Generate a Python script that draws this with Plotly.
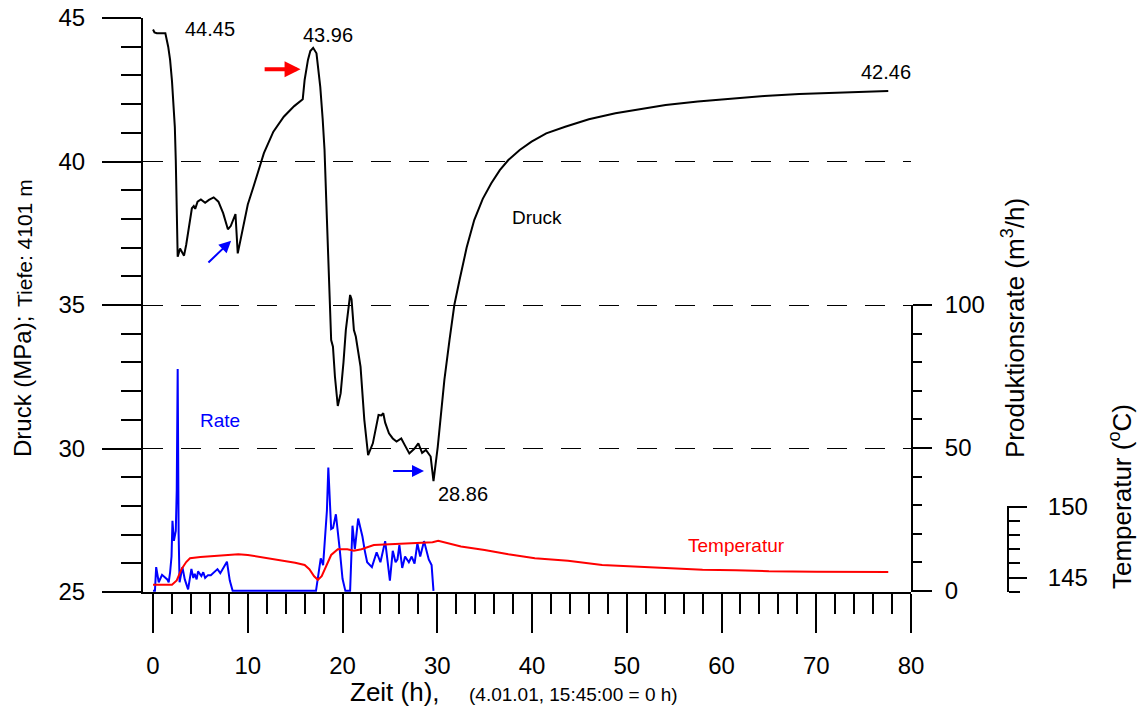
import plotly.graph_objects as go

# ---------------- data ----------------
p_time = [0.0, 0.15, 0.4, 0.8, 1.3, 1.6, 1.8, 2.0, 2.15, 2.3, 2.4, 2.5, 2.6, 2.75, 2.85, 3.05, 3.27,
          3.5, 3.75, 4.1, 4.3, 4.45, 4.7, 5.05, 5.5, 5.9, 6.4, 6.9, 7.4, 7.9, 8.2, 8.5, 8.7, 8.94,
          9.5, 10.0, 10.6, 11.2, 11.7, 12.7, 13.8, 14.9, 15.8, 16.0, 16.35, 16.6, 16.9, 17.25, 17.65,
          17.9, 18.1, 18.35, 18.55, 18.7, 18.8, 18.99, 19.2, 19.5, 19.8, 20.1, 20.35, 20.8, 20.95,
          21.2, 21.4, 21.9, 22.3, 22.7, 23.2, 23.8, 24.1, 24.3, 24.5, 24.9, 25.3, 25.7, 26.2, 26.6,
          27.05, 27.6, 28.0, 28.4, 28.8, 29.3, 29.6, 30.05, 30.4, 30.75, 31.3, 31.8, 32.35, 33.1,
          33.9, 34.8, 35.7, 36.6, 37.5, 38.7, 39.95, 41.5, 43.5, 46.0, 48.8, 51.5, 54.1, 57.5, 61.1,
          64.5, 68.2, 72.5, 77.6]
p_druck = [44.60, 44.50, 44.47, 44.48, 44.47, 44.0, 43.54, 42.8, 42.14, 41.2, 40.05, 38.3, 36.68,
           36.85, 36.97, 36.85, 36.72, 37.1, 37.6, 38.37, 38.45, 38.35, 38.6, 38.68, 38.56, 38.66,
           38.75, 38.6, 38.2, 37.64, 37.75, 38.05, 38.17, 36.8, 37.73, 38.5, 39.12, 39.75, 40.29,
           41.04, 41.56, 41.93, 42.17, 42.84, 43.54, 43.85, 43.96, 43.77, 42.6, 41.5, 40.4, 38.0,
           35.9, 35.0, 33.78, 33.55, 32.5, 31.48, 31.92, 33.0, 34.13, 35.35, 35.2, 34.13, 33.9,
           32.85, 31.0, 29.77, 30.18, 31.17, 31.15, 31.23, 30.9, 30.53, 30.35, 30.24, 30.35, 30.1,
           29.83, 30.0, 30.18, 29.85, 29.95, 29.72, 28.86, 30.06, 31.2, 32.39, 33.8, 35.0, 35.87,
           37.0, 37.96, 38.7, 39.24, 39.7, 40.05, 40.4, 40.69, 40.98, 41.21, 41.47, 41.68, 41.84,
           41.97, 42.09, 42.2, 42.28, 42.35, 42.41, 42.46]

r_time = [0.0, 0.2, 0.33, 0.6, 0.95, 1.3, 1.5, 1.65, 1.8, 1.95, 2.05, 2.2, 2.4, 2.5, 2.6, 2.7, 2.8,
          3.1, 3.35, 3.7, 4.05, 4.25, 4.4, 4.6, 4.75, 5.1, 5.3, 5.5, 5.8, 6.1, 6.4, 6.8, 7.1, 7.4,
          7.8, 8.1, 8.4, 17.2, 17.5, 17.7, 17.95, 18.2, 18.35, 18.5, 18.65, 18.8, 19.0, 19.3, 19.7,
          20.0, 20.3, 20.8, 21.05, 21.3, 21.65, 21.9, 22.1, 22.35, 22.6, 23.1, 23.4, 23.6, 24.0,
          24.3, 24.5, 25.0, 25.3, 25.6, 25.8, 26.0, 26.3, 26.6, 27.0, 27.3, 27.6, 27.9, 28.2, 28.6,
          29.1, 29.4, 29.6]
r_rate = [0, 0, 8.3, 3, 5.6, 4.4, 4.0, 3.0, 6.5, 12, 24.5, 17.5, 21, 35, 77.6, 20, 3, 8.3, 4, 0.5,
          7.7, 4.5, 6, 4.0, 6.8, 5.2, 6.5, 4.5, 5.5, 5.5, 6.5, 7.6, 6.2, 8.0, 10.2, 3.6, 0, 0, 6,
          11.4, 9, 22.8, 28, 43.1, 30, 21.6, 22, 26.8, 14.6, 4.2, 0, 0, 22.8, 14.6, 25.3, 22, 19,
          14, 10, 8.3, 11, 13.5, 10, 14, 17.4, 3.6, 14, 10, 11, 16, 8, 12, 10, 12, 9.5, 16.6, 12,
          17.4, 11, 9, 0]

t_time = [0.0, 2.0, 2.5, 3.0, 3.5, 3.9, 5.0, 6.0, 7.0, 8.0, 9.0, 10.0, 11.0, 12.0, 13.0, 14.0,
          15.0, 16.0, 16.5, 17.0, 17.4, 17.8, 18.3, 18.8, 19.5, 20.5, 21.2, 22.0, 23.3, 25.0, 27.0,
          28.6, 29.5, 30.1, 31.0, 32.5, 35.0, 37.5, 40.3, 43.8, 47.4, 50.9, 54.4, 58.0, 61.5, 65.0,
          70.0, 77.6]
t_temp = [144.5, 144.5, 144.8, 145.6, 146.1, 146.37, 146.45, 146.5, 146.5, 146.6, 146.65, 146.6,
          146.5, 146.4, 146.3, 146.2, 146.05, 145.9, 145.6, 145.1, 144.85, 145.1, 145.8, 146.6,
          147.0, 147.0, 146.9, 147.0, 147.3, 147.35, 147.4, 147.47, 147.5, 147.6, 147.45, 147.2,
          146.95, 146.65, 146.37, 146.2, 145.9, 145.78, 145.67, 145.55, 145.53, 145.45, 145.42,
          145.4]

x_ticks = [0, 10, 20, 30, 40, 50, 60, 70, 80]

# ---------------- layout helpers ----------------
W, H = 1138, 708
L, R, T, B = 143, 130, 18, 116
PW = W - L - R          # paper width in px
PH = H - T - B          # paper height in px
X_END = 911             # right end of x-axis domain (px)


def px(x):
    return (x - L) / PW


def py(y):
    return (H - B - y) / PH


FONT = "Liberation Sans, Arial, sans-serif"

fig = go.Figure()
fig.add_trace(go.Scatter(x=r_time, y=r_rate, mode="lines", yaxis="y2",
                         line=dict(color="#0000ff", width=2), showlegend=False))
fig.add_trace(go.Scatter(x=t_time, y=t_temp, mode="lines", yaxis="y3",
                         line=dict(color="#ff0000", width=2), showlegend=False))
fig.add_trace(go.Scatter(x=p_time, y=p_druck, mode="lines", yaxis="y",
                         line=dict(color="black", width=2), showlegend=False))

fig.update_layout(
    width=W, height=H,
    margin=dict(l=L, r=R, t=T, b=B, pad=0, autoexpand=False),
    paper_bgcolor="white", plot_bgcolor="rgba(0,0,0,0)",
    font=dict(family=FONT, color="black", size=24),
    xaxis=dict(domain=[0, px(X_END)], range=[-1.06, 80.0], tickvals=x_ticks, automargin=False,
               showline=True, linecolor="black", linewidth=2, showgrid=False, zeroline=False,
               layer="below traces",
               ticks="outside", ticklen=39, tickwidth=2, tickcolor="black",
               ticklabelstandoff=12, tickfont=dict(size=24),
               minor=dict(dtick=2, tick0=0, ticks="outside", ticklen=20, tickwidth=2,
                          tickcolor="black", showgrid=False)),
    yaxis=dict(domain=[0, 1], range=[25, 45], dtick=5, tick0=25, automargin=False,
               showline=True, linecolor="black", linewidth=2, zeroline=False,
               layer="below traces",
               showgrid=True, gridcolor="black", gridwidth=1, griddash="20px,18px",
               ticks="outside", ticklen=39, tickwidth=2, tickcolor="black",
               ticklabelstandoff=12, tickfont=dict(size=24),
               minor=dict(dtick=1, ticks="outside", ticklen=20, tickwidth=2,
                          tickcolor="black", showgrid=False)),
    yaxis2=dict(domain=[0, 0.5], range=[-0.4, 100], tickvals=[0, 50, 100], anchor="x",
                side="right", automargin=False, layer="below traces",
                showline=True, linecolor="black", linewidth=2, showgrid=False, zeroline=False,
                ticks="outside", ticklen=19, tickwidth=2, tickcolor="black",
                ticklabelstandoff=8, tickfont=dict(size=24),
                minor=dict(dtick=10, tick0=0, ticks="outside", ticklen=9, tickwidth=2,
                           tickcolor="black", showgrid=False)),
    yaxis3=dict(domain=[0, 0.15], range=[143.99, 150.06], tickvals=[145, 150],
                anchor="free", position=1.0, side="right", automargin=False,
                showline=True, linecolor="black", linewidth=2, showgrid=False, zeroline=False,
                ticks="outside", ticklen=18, tickwidth=2, tickcolor="black",
                ticklabelstandoff=16, tickfont=dict(size=24),
                minor=dict(dtick=1, tick0=144, ticks="outside", ticklen=11, tickwidth=2,
                           tickcolor="black", showgrid=False)),
)

annots = []


def txt(text, x, y, size, color="black", angle=0):
    annots.append(dict(text=text, x=px(x), y=py(y), xref="paper", yref="paper",
                       showarrow=False, xanchor="center", yanchor="middle",
                       textangle=angle, font=dict(size=size, color=color, family=FONT)))


txt("44.45", 210, 29, 20)
txt("43.96", 328, 35, 20)
txt("42.46", 886, 72, 20)
txt("28.86", 463, 494, 20)
txt("Druck", 537, 217, 19)
txt("Rate", 220, 420, 19, "#0000ff")
txt("Temperatur", 736, 545, 19, "#ff0000")
txt("Zeit (h),", 395, 692, 26)
txt("(4.01.01, 15:45:00 = 0 h)", 573, 694, 19)
txt("Druck (MPa);", 22, 386, 24, angle=-90)
txt("Tiefe: 4101 m", 24, 243, 21, angle=-90)
txt("Produktionsrate (m<sup>3</sup>/h)", 1013, 328, 26, angle=-90)
txt("Temperatur (<sup>o</sup>C)", 1120, 497, 26, angle=-90)


def arrow(x0, y0, x1, y1, color, width, size):
    annots.append(dict(text="", x=x1, y=y1, ax=x0, ay=y0, xref="x", yref="y",
                       axref="x", ayref="y", showarrow=True, arrowhead=2,
                       arrowsize=size, arrowwidth=width, arrowcolor=color))


arrow(11.62, 43.21, 15.57, 43.21, "#ff0000", 4, 0.8)
arrow(5.69, 36.43, 8.24, 37.24, "#0000ff", 2, 1.2)
arrow(25.18, 29.22, 28.6, 29.22, "#0000ff", 2, 1.2)

fig.update_layout(annotations=annots)
fig.write_html("out.html")
